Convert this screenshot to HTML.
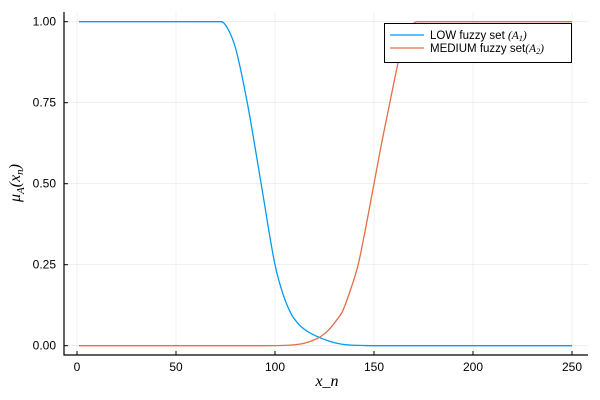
<!DOCTYPE html>
<html><head><meta charset="utf-8"><style>
html,body{margin:0;padding:0;background:#fff}
svg{display:block;font-family:"Liberation Sans",sans-serif}
</style></head><body>
<svg id="chart" width="600" height="400" viewBox="0 0 600 400" xmlns="http://www.w3.org/2000/svg">
<g id="grid"></g>
<g id="series"></g>
<g id="axes"></g>
<text transform="translate(20,183) rotate(-90)" text-anchor="middle" font-family="Liberation Serif,serif" font-style="italic" font-size="16">μ<tspan font-size="11" dy="4">A</tspan><tspan dy="-4">(x</tspan><tspan font-size="11" dy="3">n</tspan><tspan dy="-3">)</tspan></text>
<text x="327" y="386" text-anchor="middle" font-family="Liberation Serif,serif" font-style="italic" font-size="16">x_n</text>
<g>
<rect x="384.5" y="23.5" width="187" height="39" fill="#fff" stroke="#000" stroke-width="1"/>
<line x1="390" y1="35" x2="424" y2="35" stroke="#009af9" stroke-width="1.3"/>
<text x="430" y="39" font-size="11.5">LOW fuzzy set <tspan font-family="Liberation Serif,serif" font-style="italic">(A<tspan font-size="8" dy="2">1</tspan><tspan dy="-2">)</tspan></tspan></text>
<line x1="390" y1="48" x2="424" y2="48" stroke="#e26f46" stroke-width="1.3"/>
<text x="430" y="52" font-size="11.5">MEDIUM fuzzy set<tspan font-family="Liberation Serif,serif" font-style="italic">(A<tspan font-size="8" dy="2">2</tspan><tspan dy="-2">)</tspan></tspan></text>
</g>
</svg>
<script>
const lowX = [1,73,76,80,86,93,100,104,108,112,115,119,123,127,131,136,145,160,200,250];
const lowY = [1,1,0.98,0.92,0.75,0.5,0.25,0.16,0.1,0.066,0.05,0.035,0.024,0.015,0.008,0.003,0.0005,0,0,0];
const medX = [1,95,105,110,115,119,123,127,131,134,138,142,146,150,154,158,161,164,168,172,250];
const medY = [0,0,0.001,0.003,0.008,0.016,0.028,0.048,0.078,0.105,0.17,0.25,0.37,0.5,0.63,0.75,0.84,0.92,0.98,1,1];
const xTicks = [0,50,100,150,200,250];
const yTicks = [0,0.25,0.5,0.75,1];
const yTickLabels = ["0.00","0.25","0.50","0.75","1.00"];
const NS="http://www.w3.org/2000/svg";
const X = v => 77 + v*(572-77)/250;
const Y = v => 345.7 - v*(345.7-21.7);
const L=64,R=588,T=12,B=355;
function mk(tag,attrs,parent){const e=document.createElementNS(NS,tag);for(const k in attrs)e.setAttribute(k,attrs[k]);parent.appendChild(e);return e;}
const grid=document.getElementById('grid'),axes=document.getElementById('axes'),series=document.getElementById('series');
xTicks.forEach(t=>{
  const g=mk('line',{x1:X(t),x2:X(t),y1:T,y2:B,stroke:'#000','stroke-opacity':0.1,'stroke-width':0.6},grid);
  
  
  const tk=mk('line',{x1:X(t),x2:X(t),y1:B,y2:B-4,stroke:'#000','stroke-width':1},axes);
  
  
  const tx=mk('text',{x:X(t),y:371,'text-anchor':'middle','font-size':12},axes);
  tx.textContent=t;
  
  
});
yTicks.forEach((t,i)=>{
  const g=mk('line',{x1:L,x2:R,y1:Y(t),y2:Y(t),stroke:'#000','stroke-opacity':0.1,'stroke-width':0.6},grid);
  
  
  const tk=mk('line',{x1:L,x2:L+4,y1:Y(t),y2:Y(t),stroke:'#000','stroke-width':1},axes);
  
  
  const tx=mk('text',{x:56,y:Y(t)+4,'text-anchor':'end','font-size':12},axes);
  tx.textContent=yTickLabels[i];
  
  
});
const ax=mk('path',{d:`M${L},${T}V${B}H${R}`,fill:'none',stroke:'#000','stroke-width':1.2},axes);


function pathFor(xs,ys){
  const px=xs.map(X),py=ys.map(Y),n=px.length;
  const d=[],m=new Array(n);
  for(let i=0;i<n-1;i++)d.push((py[i+1]-py[i])/(px[i+1]-px[i]));
  m[0]=d[0];m[n-1]=d[n-2];
  for(let i=1;i<n-1;i++)m[i]=(d[i-1]*d[i]<=0)?0:(d[i-1]+d[i])/2;
  for(let i=0;i<n-1;i++){if(d[i]===0){m[i]=0;m[i+1]=0;}else{const a=m[i]/d[i],b=m[i+1]/d[i],s=a*a+b*b;if(s>9){const t=3/Math.sqrt(s);m[i]=t*a*d[i];m[i+1]=t*b*d[i];}}}
  let s=`M${px[0]},${py[0]}`;
  for(let i=0;i<n-1;i++){const h=(px[i+1]-px[i])/3;s+=`C${px[i]+h},${py[i]+m[i]*h} ${px[i+1]-h},${py[i+1]-m[i+1]*h} ${px[i+1]},${py[i+1]}`;}
  return s;
}
const lo=mk('path',{d:pathFor(lowX,lowY),fill:'none',stroke:'#009af9','stroke-width':1.3},series);


const me=mk('path',{d:pathFor(medX,medY),fill:'none',stroke:'#e26f46','stroke-width':1.3},series);


</script>
</body></html>
